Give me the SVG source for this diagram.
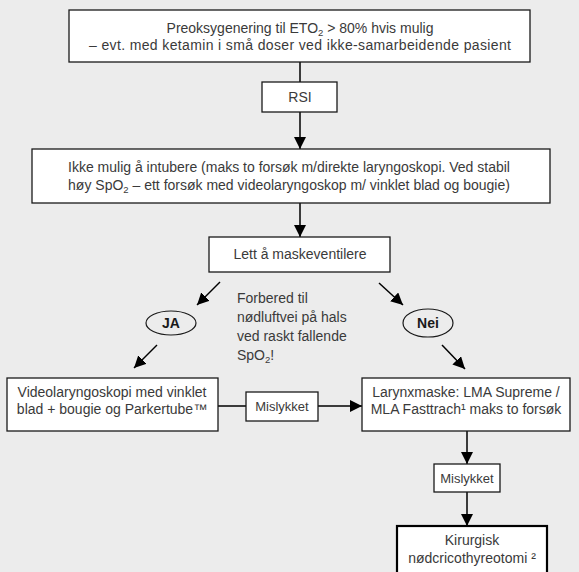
<svg xmlns="http://www.w3.org/2000/svg" width="579" height="572" viewBox="0 0 579 572">
  <defs>
    <marker id="arrow" viewBox="0 0 12 12" refX="12" refY="6" markerWidth="12" markerHeight="12" markerUnits="userSpaceOnUse" orient="auto">
      <path d="M0,0 L12,6 L0,12 Z" fill="#000"/>
    </marker>
    <style>
      .box { fill: #fff; stroke: #1a1a1a; stroke-width: 1.3; }
      .thick { fill: #fff; stroke: #000; stroke-width: 2.2; }
      .oval { fill: none; stroke: #1a1a1a; stroke-width: 1.2; }
      .t { font-family: "Liberation Sans", Arial, sans-serif; font-size: 14px; fill: #3a3a3a; text-anchor: middle; }
      .sm { font-size: 13px; }
      .tl { font-family: "Liberation Sans", Arial, sans-serif; font-size: 14px; fill: #3a3a3a; }
      .b { font-family: "Liberation Sans", Arial, sans-serif; font-size: 14px; font-weight: bold; fill: #1a1a1a; text-anchor: middle; }
      .sub { font-size: 9.5px; }
      .edge { stroke: #000; stroke-width: 1.5; fill: none; }
      .arr { stroke: #000; stroke-width: 1.5; fill: none; marker-end: url(#arrow); }
    </style>
  </defs>
  <rect width="579" height="572" fill="#ececec"/>

  <!-- connectors -->
  <g id="connectors">
    <line class="edge" x1="300" y1="62" x2="300" y2="82"/>
    <line class="arr" x1="300" y1="112" x2="300" y2="149"/>
    <line class="arr" x1="300" y1="203" x2="300" y2="237"/>
    <line class="arr" x1="220" y1="282" x2="197" y2="305"/>
    <line class="arr" x1="379" y1="283" x2="403" y2="305"/>
    <line class="arr" x1="157" y1="345" x2="134" y2="368"/>
    <line class="arr" x1="442" y1="345" x2="465" y2="369"/>
    <line class="edge" x1="218" y1="406" x2="246" y2="406"/>
    <line class="arr" x1="318" y1="406" x2="362" y2="406"/>
    <line class="arr" x1="467" y1="431" x2="467" y2="464"/>
    <line class="arr" x1="467" y1="492" x2="467" y2="526"/>
  </g>

  <g id="preoks">
    <rect class="box" x="69" y="10" width="461" height="52"/>
    <text class="t" x="300" y="33">Preoksygenering til ETO<tspan class="sub" dy="3">2</tspan><tspan dy="-3"> &gt; 80% hvis mulig</tspan></text>
    <text class="t" x="300" y="50" textLength="422">– evt. med ketamin i små doser ved ikke-samarbeidende pasient</text>
  </g>

  <g id="rsi">
    <rect class="box" x="262" y="82" width="75" height="30"/>
    <text class="t" x="300" y="102">RSI</text>
  </g>

  <g id="intubere">
    <rect class="box" x="32" y="149" width="518" height="54"/>
    <text class="t" x="289" y="172">Ikke mulig å intubere (maks to forsøk m/direkte laryngoskopi. Ved stabil</text>
    <text class="t" x="289" y="190">høy SpO<tspan class="sub" dy="3">2</tspan><tspan dy="-3"> – ett forsøk med videolaryngoskop m/ vinklet blad og bougie)</tspan></text>
  </g>

  <g id="maske">
    <rect class="box" x="209" y="237" width="181" height="35"/>
    <text class="t" x="300" y="259">Lett å maskeventilere</text>
  </g>

  <g id="note">
    <text class="tl" x="237" y="303">Forbered til</text>
    <text class="tl" x="237" y="322">nødluftvei på hals</text>
    <text class="tl" x="237" y="341">ved raskt fallende</text>
    <text class="tl" x="237" y="360">SpO<tspan class="sub" dy="3">2</tspan><tspan dy="-3">!</tspan></text>
  </g>

  <g id="ja">
    <ellipse class="oval" cx="171" cy="323" rx="25" ry="12"/>
    <text class="b" x="171" y="328">JA</text>
  </g>

  <g id="nei">
    <ellipse class="oval" cx="428" cy="323" rx="25" ry="14"/>
    <text class="b" x="428" y="328">Nei</text>
  </g>

  <g id="video">
    <rect class="box" x="7" y="378" width="211" height="53"/>
    <text class="t" x="112" y="397">Videolaryngoskopi med vinklet</text>
    <text class="t" x="112" y="414">blad + bougie og Parkertube™</text>
  </g>

  <g id="mislykket1">
    <rect class="box" x="246" y="392" width="72" height="29"/>
    <text class="t sm" x="282" y="411">Mislykket</text>
  </g>

  <g id="larynx">
    <rect class="box" x="362" y="378" width="208" height="53"/>
    <text class="t" x="466" y="397">Larynxmaske: LMA Supreme /</text>
    <text class="t" x="466" y="414">MLA Fasttrach¹ maks to forsøk</text>
  </g>

  <g id="mislykket2">
    <rect class="box" x="434" y="464" width="66" height="28"/>
    <text class="t sm" x="467" y="483">Mislykket</text>
  </g>

  <g id="kirurgisk">
    <rect class="thick" x="397" y="526" width="150" height="52"/>
    <text class="t" x="472" y="545">Kirurgisk</text>
    <text class="t" x="472" y="563">nødcricothyreotomi ²</text>
  </g>
</svg>
